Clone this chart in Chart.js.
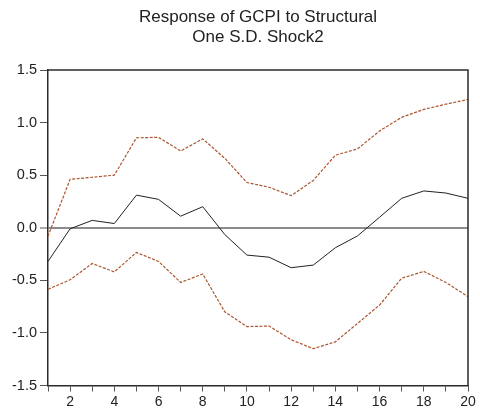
<!DOCTYPE html>
<html>
<head>
<meta charset="utf-8">
<script src="https://cdn.jsdelivr.net/npm/chart.js@4/dist/chart.umd.min.js"></script>
<style>
  html, body { margin: 0; padding: 0; background: #fff; }
  #wrap { width: 480px; height: 408px; }
</style>
</head>
<body>
<div id="wrap"><canvas id="c" width="480" height="408"></canvas></div>
<script>
// Impulse response periods
const periods = ['1','2','3','4','5','6','7','8','9','10','11','12','13','14','15','16','17','18','19','20'];

// Point response of GCPI
const response = [-0.32, -0.01, 0.07, 0.04, 0.31, 0.27, 0.11, 0.20, -0.065, -0.26,
                  -0.28, -0.38, -0.355, -0.19, -0.078, 0.10, 0.28, 0.35, 0.33, 0.28];

// +/- 2 S.E. bands
const upperBand = [-0.08, 0.46, 0.48, 0.50, 0.855, 0.86, 0.73, 0.845, 0.66, 0.43,
                   0.385, 0.305, 0.45, 0.69, 0.75, 0.92, 1.05, 1.125, 1.175, 1.22];
const lowerBand = [-0.585, -0.495, -0.34, -0.42, -0.235, -0.32, -0.52, -0.44, -0.80, -0.94,
                   -0.935, -1.065, -1.15, -1.085, -0.91, -0.735, -0.48, -0.415, -0.52, -0.655];

const titleLines = ['Response of GCPI to Structural', 'One S.D. Shock2'];

const FONT = "'Liberation Sans', Arial, Helvetica, sans-serif";
const bandColor = '#aa552e';

// Closes the plot frame on the top and right sides
const frame = {
  id: 'frame',
  afterDraw(chart) {
    const a = chart.chartArea, ctx = chart.ctx;
    ctx.save();
    ctx.strokeStyle = '#2b2b2b';
    ctx.lineWidth = 1.5;
    ctx.beginPath();
    ctx.moveTo(a.left, a.top);
    ctx.lineTo(a.right, a.top);
    ctx.lineTo(a.right, a.bottom);
    ctx.stroke();
    ctx.restore();
  }
};

new Chart(document.getElementById('c'), {
  type: 'line',
  data: {
    labels: periods,
    datasets: [
      { data: upperBand, borderColor: bandColor, borderWidth: 1.2, borderDash: [3, 1.5], pointRadius: 0, tension: 0 },
      { data: response, borderColor: '#222', borderWidth: 1, pointRadius: 0, tension: 0 },
      { data: lowerBand, borderColor: bandColor, borderWidth: 1.2, borderDash: [3, 1.5], pointRadius: 0, tension: 0 }
    ]
  },
  options: {
    responsive: false,
    animation: false,
    devicePixelRatio: 1,
    layout: { padding: { left: 0, right: 12, top: 0, bottom: 0 } },
    plugins: {
      legend: { display: false },
      tooltip: { enabled: false },
      title: {
        display: true,
        fullSize: false,
        text: titleLines,
        color: '#222',
        font: { family: FONT, size: 17, weight: 'normal', lineHeight: 20 / 17 },
        padding: { top: 7, bottom: 23 }
      }
    },
    scales: {
      x: {
        offset: false,
        border: { color: '#2b2b2b', width: 1.5 },
        grid: { drawOnChartArea: false, tickLength: 6, color: '#555', tickWidth: 1 },
        ticks: {
          autoSkip: false, maxRotation: 0, padding: 2, color: '#222',
          font: { family: FONT, size: 14 },
          callback: (v, i) => ((i + 1) % 2 === 0 ? periods[i] : '')
        },
        afterFit: (s) => { s.height = 22.5; }
      },
      y: {
        min: -1.5, max: 1.5,
        border: { color: '#2b2b2b', width: 1.5 },
        grid: {
          tickLength: 8, tickWidth: 1, tickColor: '#555',
          color: (c) => (c.tick && c.tick.value === 0 ? '#8c8c8c' : 'rgba(0,0,0,0)'),
          lineWidth: (c) => (c.tick && c.tick.value === 0 ? 2 : 1)
        },
        ticks: {
          stepSize: 0.5, padding: 3, color: '#222',
          font: { family: FONT, size: 14.5 },
          callback: (v) => v.toFixed(1)
        },
        afterFit: (s) => { s.width = 48; }
      }
    }
  },
  plugins: [frame]
});
</script>
</body>
</html>
